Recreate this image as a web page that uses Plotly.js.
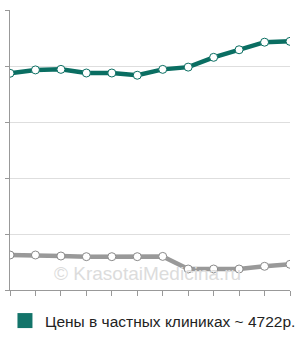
<!DOCTYPE html>
<html>
<head>
<meta charset="utf-8">
<script src="https://cdn.plot.ly/plotly-3.0.1.min.js"></script>
<style>html,body{margin:0;padding:0;background:#fff;}#chart{width:300px;height:340px;}</style>
</head>
<body>
<div id="chart"></div>
<script>
const periods = [0,1,2,3,4,5,6,7,8,9,10,11];
const privatePrices = [3870,3930,3940,3875,3875,3835,3940,3980,4155,4290,4425,4440];
const publicPrices = [625,625,607,595,595,595,600,375,375,375,423,459];
const legendLabel = "Цены в частных клиниках ~ 4722р.";
const watermark = "© KrasotaiMedicina.ru";

const green = "#0a6e62";
const gray = "#999999";

const traces = [
  {x: [null], y: [null], yaxis: "y2", type: "scatter", mode: "lines", showlegend: false, hoverinfo: "skip"},
  {x: periods, y: publicPrices, type: "scatter", mode: "lines+markers", showlegend: false,
   line: {color: gray, width: 4.5},
   marker: {color: "#ffffff", size: 8, line: {color: "#8a8a8a", width: 1}}},
  {x: periods, y: privatePrices, type: "scatter", mode: "lines+markers", showlegend: false,
   line: {color: green, width: 4.5},
   marker: {color: "#ffffff", size: 8, line: {color: green, width: 1}}},
  {x: [null], y: [null], type: "scatter", mode: "markers", name: legendLabel, showlegend: true,
   marker: {symbol: "square", size: 15, color: "#13746a"}}
];

const layout = {
  width: 300, height: 340,
  margin: {l: 10, r: 10, t: 10, b: 50, autoexpand: false},
  paper_bgcolor: "#fff", plot_bgcolor: "#fff",
  font: {family: "Liberation Sans, Arial, sans-serif", color: "#333"},
  showlegend: true,
  legend: {orientation: "h", x: -0.018, xanchor: "left", y: -0.05, yanchor: "top",
           font: {size: 15.5, color: "#222"}, itemclick: false, bgcolor: "rgba(0,0,0,0)"},
  xaxis: {range: [0, 11], tickvals: periods, showticklabels: false, ticks: "outside", ticklen: 5,
          tickcolor: "#999", showline: true, linecolor: "#999", linewidth: 1, showgrid: false,
          zeroline: false, fixedrange: true},
  yaxis: {range: [0, 5000], tickvals: [0,1000,2000,3000,4000,5000], showticklabels: false,
          ticks: "outside", ticklen: 4, tickcolor: "#999", showline: true, linecolor: "#999",
          linewidth: 1, showgrid: false, zeroline: false, fixedrange: true},
  yaxis2: {range: [0, 5000], overlaying: "y", tickvals: [1000,2000,3000,4000], showticklabels: false,
           ticks: "", showgrid: true, gridcolor: "#dedede", gridwidth: 1, zeroline: false,
           showline: false, fixedrange: true},
  annotations: [{text: watermark, xref: "paper", yref: "paper", x: 0.49, y: 0.06,
                 xanchor: "center", yanchor: "middle", showarrow: false,
                 font: {size: 19, color: "#dcdcdc"}}]
};

Plotly.newPlot("chart", traces, layout, {displayModeBar: false, staticPlot: true});
</script>
</body>
</html>
